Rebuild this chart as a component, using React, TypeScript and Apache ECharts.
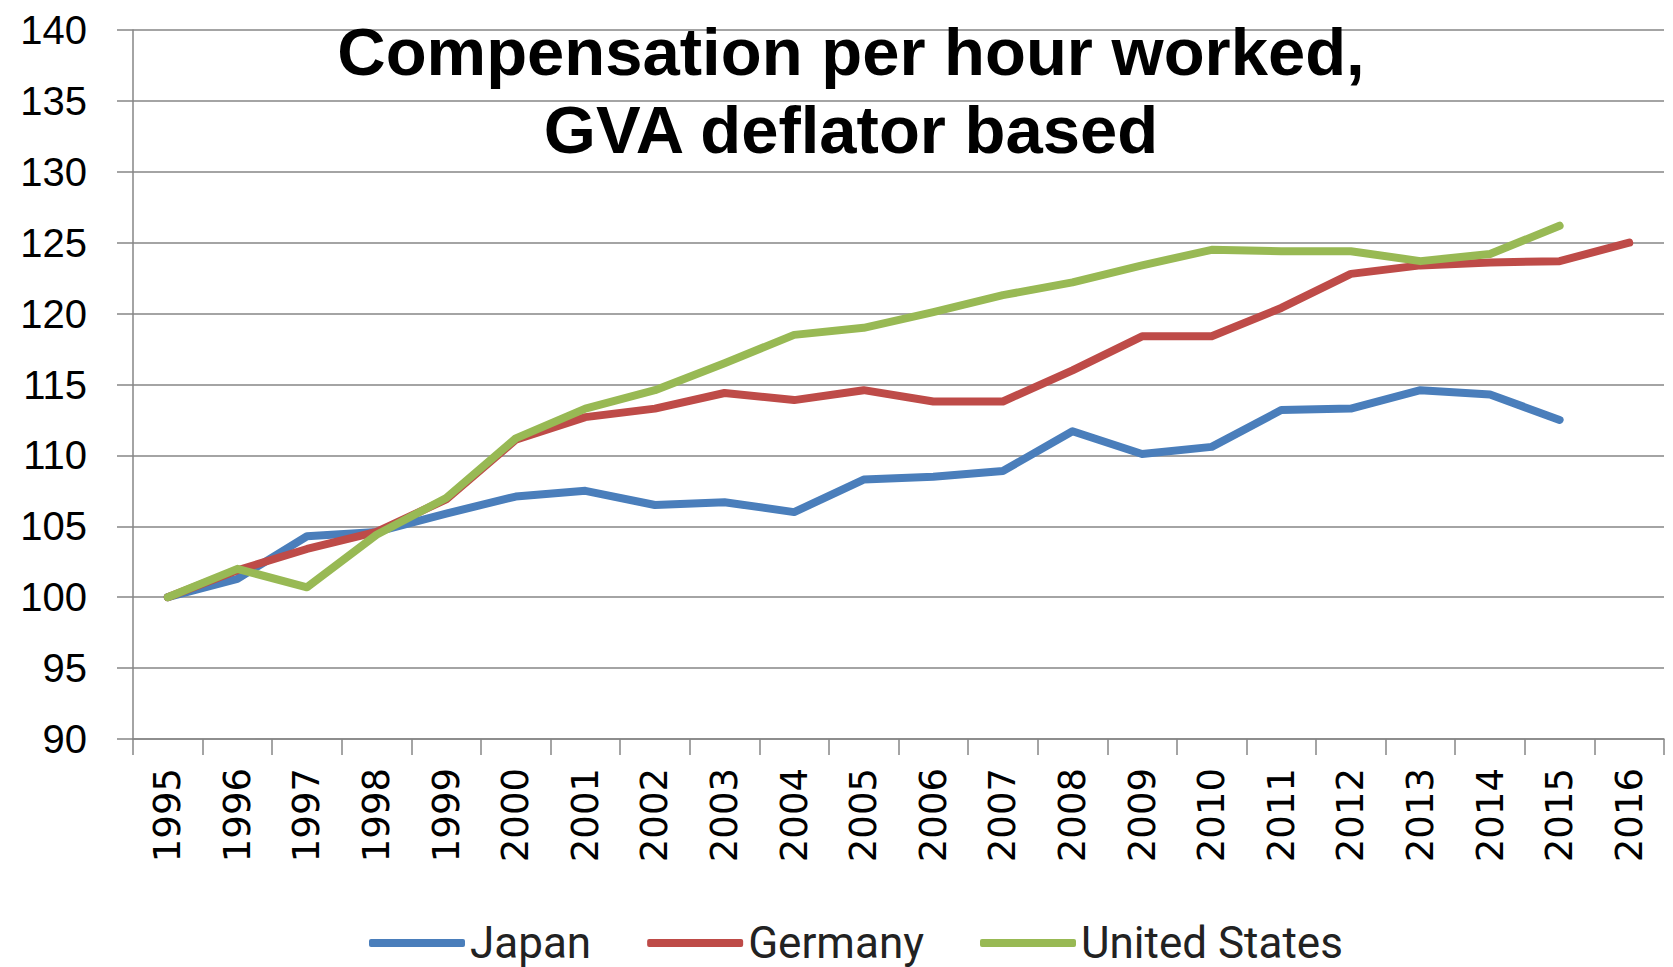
import React, { useEffect, useRef } from "react";
import * as echarts from "echarts";

const years = ["1995","1996","1997","1998","1999","2000","2001","2002","2003","2004","2005","2006","2007","2008","2009","2010","2011","2012","2013","2014","2015","2016"];
const japan = [100, 101.3, 104.3, 104.6, 105.9, 107.1, 107.5, 106.5, 106.7, 106.0, 108.3, 108.5, 108.9, 111.7, 110.1, 110.6, 113.2, 113.3, 114.6, 114.3, 112.5, null];
const germany = [100, 101.9, 103.4, 104.6, 106.9, 111.1, 112.7, 113.3, 114.4, 113.9, 114.6, 113.8, 113.8, 116.0, 118.4, 118.4, 120.4, 122.8, 123.4, 123.6, 123.7, 125.0];
const unitedStates = [100, 102.0, 100.7, 104.4, 107.0, 111.2, 113.3, 114.6, 116.5, 118.5, 119.0, 120.1, 121.3, 122.2, 123.4, 124.5, 124.4, 124.4, 123.7, 124.2, 126.2, null];
const seriesNames = ["Japan", "Germany", "United States"];
const colors = ["#4A7EBB", "#BE4B48", "#98B954"];
const titleText = "Compensation per hour worked,\nGVA deflator based";

export default function App() {
  const ref = useRef<HTMLDivElement>(null);
  useEffect(() => {
    if (!ref.current) return;
    const chart = echarts.init(ref.current, null, { renderer: "svg" });
    const data = [japan, germany, unitedStates];
    chart.setOption({
      animation: false,
      backgroundColor: "#ffffff",
      title: {
        text: titleText,
        left: 846,
        top: 7,
        textAlign: "center",
        textStyle: {
          fontFamily: "Liberation Sans, Arial, sans-serif",
          fontWeight: "bold",
          fontSize: 67,
          lineHeight: 78,
          color: "#000000",
        },
      },
      legend: {
        data: seriesNames,
        left: 364,
        top: 916,
        itemWidth: 96,
        itemHeight: 8,
        itemGap: 56,
        icon: "roundRect",
        textStyle: {
          fontFamily: "Roboto, sans-serif",
          fontSize: 44,
          color: "#222222",
          padding: [0, 0, 0, 0],
        },
      },
      grid: {
        left: 133,
        right: 9,
        top: 30,
        bottom: 228,
        containLabel: false,
      },
      xAxis: {
        type: "category",
        data: years,
        boundaryGap: true,
        axisLine: { show: true, lineStyle: { color: "#868686", width: 1.5 } },
        axisTick: { show: true, length: 16, interval: 0, lineStyle: { color: "#868686", width: 1.5 } },
        axisLabel: {
          interval: 0,
          rotate: 90,
          margin: 29,
          fontFamily: "DejaVu Sans, Verdana, sans-serif",
          fontSize: 37,
          color: "#000000",
        },
      },
      yAxis: {
        type: "value",
        min: 90,
        max: 140,
        interval: 5,
        axisLine: { show: true, lineStyle: { color: "#868686", width: 1.5 } },
        axisTick: { show: true, length: 16, lineStyle: { color: "#868686", width: 1.5 } },
        splitLine: { show: true, lineStyle: { color: "#868686", width: 1.5 } },
        axisLabel: {
          margin: 46,
          fontFamily: "Liberation Sans, Arial, sans-serif",
          fontSize: 40,
          color: "#000000",
        },
      },
      series: seriesNames.map((name, i) => ({
        name,
        type: "line",
        data: data[i],
        color: colors[i],
        showSymbol: false,
        symbol: "none",
        connectNulls: false,
        lineStyle: { width: 8, color: colors[i], cap: "round", join: "round" },
      })),
    });
    return () => chart.dispose();
  }, []);
  return (
    <div
      ref={ref}
      style={{ position: "fixed", left: 0, top: 0, width: 1673, height: 967 }}
    />
  );
}
